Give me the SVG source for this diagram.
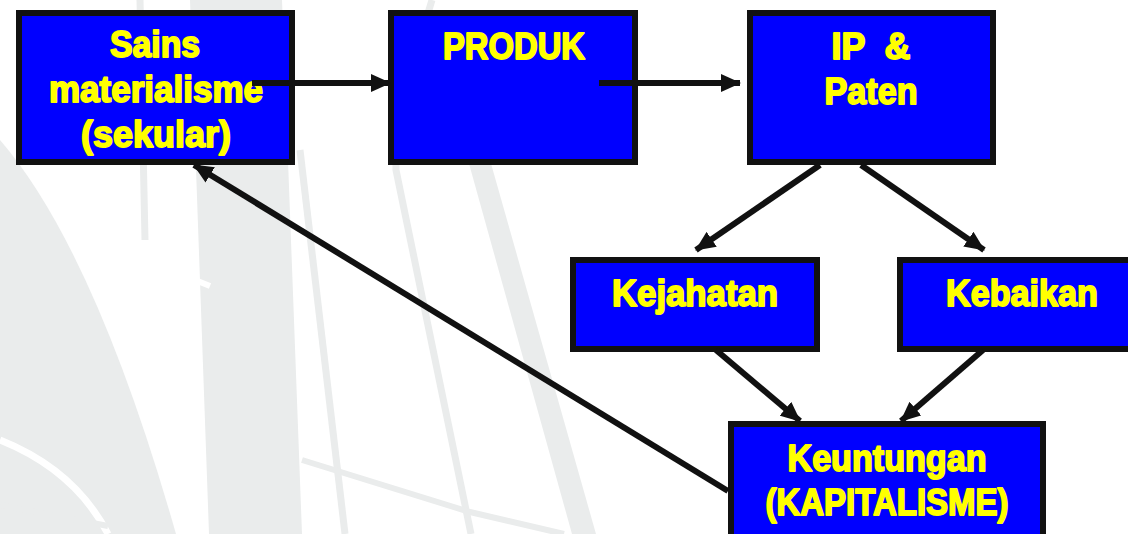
<svg xmlns="http://www.w3.org/2000/svg" width="1128" height="534" viewBox="0 0 1128 534">
<style>
.box{fill:#0000ff;stroke:#111111;stroke-width:6}
.t{font-family:"Liberation Sans",Arial,sans-serif;font-weight:bold;font-size:36px;fill:#ffff00;stroke:#ffff00;stroke-width:1.8;stroke-linejoin:round;text-anchor:middle}
.c{stroke:#111111;stroke-width:6;fill:none;marker-end:url(#ah)}
.wm{fill:#eaecec}
.wl{stroke:#eaecec;fill:none}
</style>
<defs>
<marker id="ah" markerUnits="userSpaceOnUse" markerWidth="20" markerHeight="18" refX="19" refY="9" orient="auto">
<path d="M0,0 L20,9 L0,18 Z" fill="#111111"/>
</marker>
</defs>
<rect width="1128" height="534" fill="#ffffff"/>
<g id="watermark">
<path class="wm" d="M0,140 Q95,250 176,534 L0,534 Z"/>
<path d="M0,440 Q75,470 108,534" stroke="#ffffff" stroke-width="7" fill="none"/>
<path d="M0,505 L108,526" stroke="#eaecec" stroke-width="6" fill="none"/>
<polygon class="wm" points="190,0 282,0 302,534 209,534"/>
<path class="wl" d="M140,0 L145,240" stroke-width="7"/>
<path d="M150,262 L210,286" stroke="#ffffff" stroke-width="6"/>
<path class="wl" d="M300,150 L345,534" stroke-width="7"/>
<path class="wl" d="M432,0 Q395,120 396,170 L471,534" stroke-width="7"/>
<polygon class="wm" points="468,160 490,160 596,534 572,534"/>
<path d="M302,460 L470,512 L564,534" stroke="#eaecec" stroke-width="6" fill="none"/>
</g>
<g id="n_sains">
<rect class="box" x="19" y="13" width="273" height="149"/>
<text class="t" x="155" y="57" textLength="90" lengthAdjust="spacingAndGlyphs">Sains</text>
<text class="t" x="156" y="102" textLength="214" lengthAdjust="spacingAndGlyphs">materialisme</text>
<text class="t" x="156" y="147" textLength="150" lengthAdjust="spacingAndGlyphs">(sekular)</text>
</g>
<g id="n_produk">
<rect class="box" x="391" y="13" width="244" height="149"/>
<text class="t" x="514" y="59" textLength="142" lengthAdjust="spacingAndGlyphs">PRODUK</text>
</g>
<g id="n_ip">
<rect class="box" x="750" y="13" width="243" height="149"/>
<text class="t" x="871" y="59" textLength="79" lengthAdjust="spacingAndGlyphs" xml:space="preserve">IP  &amp;</text>
<text class="t" x="871" y="104" textLength="93" lengthAdjust="spacingAndGlyphs">Paten</text>
</g>
<g id="n_kejahatan">
<rect class="box" x="573" y="260" width="244" height="89"/>
<text class="t" x="695" y="306" textLength="166" lengthAdjust="spacingAndGlyphs">Kejahatan</text>
</g>
<g id="n_kebaikan">
<rect class="box" x="900" y="260" width="244" height="89"/>
<text class="t" x="1022" y="306" textLength="152" lengthAdjust="spacingAndGlyphs">Kebaikan</text>
</g>
<g id="n_keuntungan">
<rect class="box" x="731" y="424" width="312" height="140"/>
<text class="t" x="887" y="471" textLength="199" lengthAdjust="spacingAndGlyphs">Keuntungan</text>
<text class="t" x="887" y="515" textLength="243" lengthAdjust="spacingAndGlyphs">(KAPITALISME)</text>
</g>
<g id="connectors">
<line class="c" x1="252" y1="83" x2="390" y2="83"/>
<line class="c" x1="599" y1="83" x2="740" y2="83"/>
<line class="c" x1="820" y1="165" x2="696" y2="250"/>
<line class="c" x1="861" y1="165" x2="984" y2="250"/>
<line class="c" x1="716" y1="350" x2="800" y2="421"/>
<line class="c" x1="983" y1="350" x2="901" y2="421"/>
<line class="c" x1="728" y1="491" x2="194" y2="165"/>
</g>
</svg>
